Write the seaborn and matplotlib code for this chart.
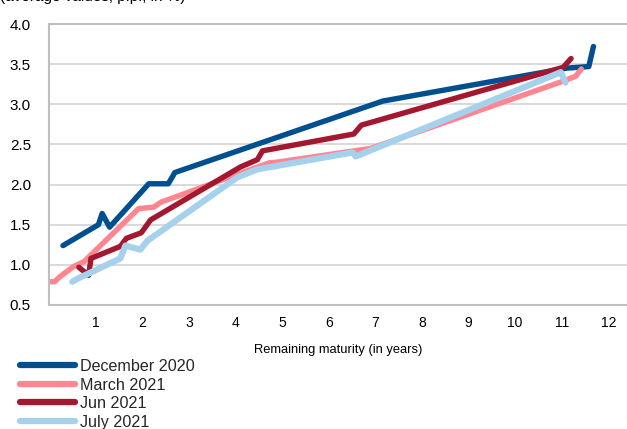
import matplotlib
matplotlib.use("Agg")
import matplotlib.pyplot as plt
import seaborn as sns
import pandas as pd

# Yield curves by remaining maturity
series_names = ["December 2020", "March 2021", "Jun 2021", "July 2021"]

dec_x = [0.30, 1.06, 1.14, 1.30, 2.14, 2.56, 2.70, 7.16, 11.10, 11.58, 11.68]
dec_y = [1.24, 1.50, 1.64, 1.47, 2.01, 2.01, 2.15, 3.04, 3.45, 3.47, 3.72]

mar_x = [0.00, 0.12, 0.25, 0.53, 0.75, 1.92, 2.25, 2.40, 4.72, 4.90, 6.90, 11.04, 11.30, 11.42]
mar_y = [0.79, 0.79, 0.86, 0.98, 1.04, 1.70, 1.72, 1.78, 2.27, 2.28, 2.45, 3.29, 3.35, 3.44]

jun_x = [0.64, 0.85, 0.90, 1.53, 1.66, 1.98, 2.18, 4.11, 4.47, 4.58, 6.54, 6.70, 11.03, 11.20]
jun_y = [0.97, 0.87, 1.08, 1.23, 1.33, 1.40, 1.56, 2.22, 2.31, 2.42, 2.63, 2.74, 3.46, 3.57]

jul_x = [0.50, 0.62, 1.53, 1.64, 1.96, 2.11, 4.04, 4.47, 6.51, 6.58, 10.98, 11.08]
jul_y = [0.79, 0.83, 1.08, 1.24, 1.19, 1.30, 2.09, 2.19, 2.40, 2.35, 3.40, 3.27]

x_ticks = list(range(1, 13))
y_ticks = [0.5, 1.0, 1.5, 2.0, 2.5, 3.0, 3.5, 4.0]

colors = ["#00508F", "#FF8591", "#A3182F", "#A6D1EC"]

frames = []
for name, xs, ys in zip(series_names,
                        [dec_x, mar_x, jun_x, jul_x],
                        [dec_y, mar_y, jun_y, jul_y]):
    frames.append(pd.DataFrame({"maturity": xs, "yield": ys, "series": name}))
df = pd.concat(frames, ignore_index=True)

sns.set_theme(style="white")
plt.rcParams["font.family"] = ["Liberation Sans", "DejaVu Sans"]

fig = plt.figure(figsize=(6.27, 4.29), dpi=100)
ax = fig.add_axes([49 / 627, 1 - 305 / 429, 1 - 49 / 627, (305 - 24) / 429])

ax.yaxis.grid(True, color="#D9D9D9", linewidth=1.4)
ax.set_axisbelow(True)

sns.lineplot(data=df, x="maturity", y="yield", hue="series",
             hue_order=series_names, palette=colors, sort=False,
             estimator=None, units="series", linewidth=3.9, ax=ax,
             legend=False)
for line in ax.get_lines():
    line.set_solid_capstyle("round")
    line.set_solid_joinstyle("round")
ax.get_lines()[3].set_linewidth(4.5)

ax.set_xlim(0, 12.4)
ax.set_ylim(0.5, 4.0)
ax.set_xticks(x_ticks)
ax.set_xticklabels([str(t) for t in x_ticks], fontsize=10)
ax.set_yticks(y_ticks)
ax.set_yticklabels([f"{t:.1f}" for t in y_ticks], fontsize=11)
ax.tick_params(axis="x", length=0, pad=8, colors="#000000")
ax.tick_params(axis="y", length=0, pad=13, colors="#000000")

for side in ["left", "bottom", "top"]:
    ax.spines[side].set_visible(True)
    ax.spines[side].set_color("#BFBFBF")
    ax.spines[side].set_linewidth(1.5)
ax.spines["right"].set_visible(False)

ax.set_xlabel("Remaining maturity (in years)", fontsize=9.3,
              labelpad=10, color="#000000")
ax.set_ylabel("")

handles = [plt.Line2D([], [], color=c, linewidth=4.5, solid_capstyle="round")
           for c in colors]
fig.legend(handles, series_names, loc="upper left",
           bbox_to_anchor=(20 / 627, 1 - 359 / 429), frameon=False,
           fontsize=11.6, handlelength=3.4, handletextpad=0.3,
           labelspacing=0.22, borderpad=0, borderaxespad=0)

fig.text(0.0, 1 - 1.5 / 429, "(average values, p.p., in %)", fontsize=11,
         ha="left", va="baseline", color="#000000")

fig.savefig("out.png", dpi=100)
